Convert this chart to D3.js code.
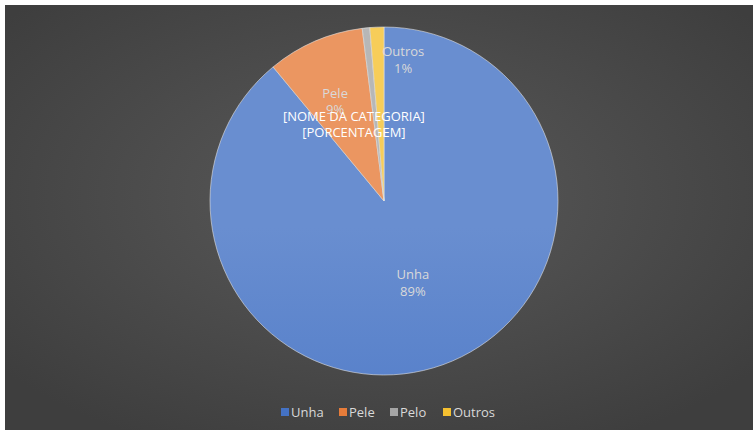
<!DOCTYPE html>
<html>
<head>
<meta charset="utf-8">
<script src="https://cdn.jsdelivr.net/npm/d3@7"></script>
<style>
  body { margin: 0; background: #fff; }
  svg { display: block; font-family: "Open Sans", sans-serif; }
</style>
</head>
<body>
<svg id="chart" width="753" height="430"></svg>
<script>
// data
const categories = ['Unha', 'Pele', 'Pelo', 'Outros']
const values = [89, 9, 0.7, 1.3]
const labelText = ['Unha', 'Pele', '[NOME DA CATEGORIA]', 'Outros']
const pctText = ['89%', '9%', '[PORCENTAGEM]', '1%']
const colors = ['#4472c4', '#e67c3a', '#a5a5a5', '#f5c030']

const width = 753
const height = 430
const cx = 384
const cy = 201
const radius = 174

const svg = d3.select('#chart')
const defs = svg.append('defs')

const bg = defs.append('radialGradient')
  .attr('id', 'bg')
  .attr('cx', '50%').attr('cy', '45%').attr('r', '65%')
bg.append('stop').attr('offset', '0%').attr('stop-color', '#5a5a5a')
bg.append('stop').attr('offset', '100%').attr('stop-color', '#3e3e3e')

// slight top-to-bottom shading on each slice, lighter at the top
colors.forEach((c, i) => {
  const g = defs.append('linearGradient')
    .attr('id', 'grad' + i)
    .attr('gradientUnits', 'userSpaceOnUse')
    .attr('x1', 0).attr('y1', cy - radius)
    .attr('x2', 0).attr('y2', cy + radius)
  g.append('stop').attr('offset', '0%').attr('stop-color', d3.interpolateRgb(c, '#ffffff')(0.2))
  g.append('stop').attr('offset', '100%').attr('stop-color', c)
})

svg.append('rect')
  .attr('x', 5).attr('y', 5)
  .attr('width', width - 5).attr('height', height - 5)
  .attr('fill', 'url(#bg)')

const pie = d3.pie().sort(null).value(d => d)
const arcs = pie(values)
const arc = d3.arc().innerRadius(0).outerRadius(radius)

const plot = svg.append('g').attr('transform', `translate(${cx},${cy})`)

plot.selectAll('path')
  .data(arcs)
  .join('path')
  .attr('d', arc)
  .attr('fill', (d, i) => `url(#grad${i})`)
  .attr('stroke', '#e0e0e0')
  .attr('stroke-width', 0.6)

// data labels: fraction of radius along the slice bisector, plus a nudge
const labelRadius = [0.49, 0.65, 0.45, 0.82]
const labelShift = [[0, 0], [-4, 3], [-22, 0], [25, 0]]
const labels = plot.selectAll('g.lbl')
  .data(arcs)
  .join('g')
  .attr('class', 'lbl')
  .attr('transform', (d, i) => {
    const a = (d.startAngle + d.endAngle) / 2
    const r = radius * labelRadius[i]
    const x = Math.sin(a) * r + labelShift[i][0]
    const y = -Math.cos(a) * r + labelShift[i][1]
    return `translate(${x},${y})`
  })

labels.append('text')
  .attr('text-anchor', 'middle')
  .attr('fill', (d, i) => i === 2 ? '#ffffff' : '#d9d9d9')
  .attr('font-size', 13)
  .each(function (d, i) {
    const t = d3.select(this)
    t.append('tspan').attr('x', 0).attr('dy', '-0.2em').text(labelText[i])
    t.append('tspan').attr('x', 0).attr('dy', '1.3em').text(pctText[i])
  })

// legend
const legendX = [281, 339, 390, 443]
const legend = svg.append('g')
  .selectAll('g')
  .data(categories)
  .join('g')
  .attr('transform', (d, i) => `translate(${legendX[i]},412)`)

legend.append('rect')
  .attr('x', 0).attr('y', -4)
  .attr('width', 8).attr('height', 8)
  .attr('fill', (d, i) => colors[i])

legend.append('text')
  .attr('x', 10).attr('y', 0)
  .attr('dominant-baseline', 'central')
  .attr('fill', '#d9d9d9')
  .attr('font-size', 13)
  .text(d => d)
</script>
</body>
</html>
